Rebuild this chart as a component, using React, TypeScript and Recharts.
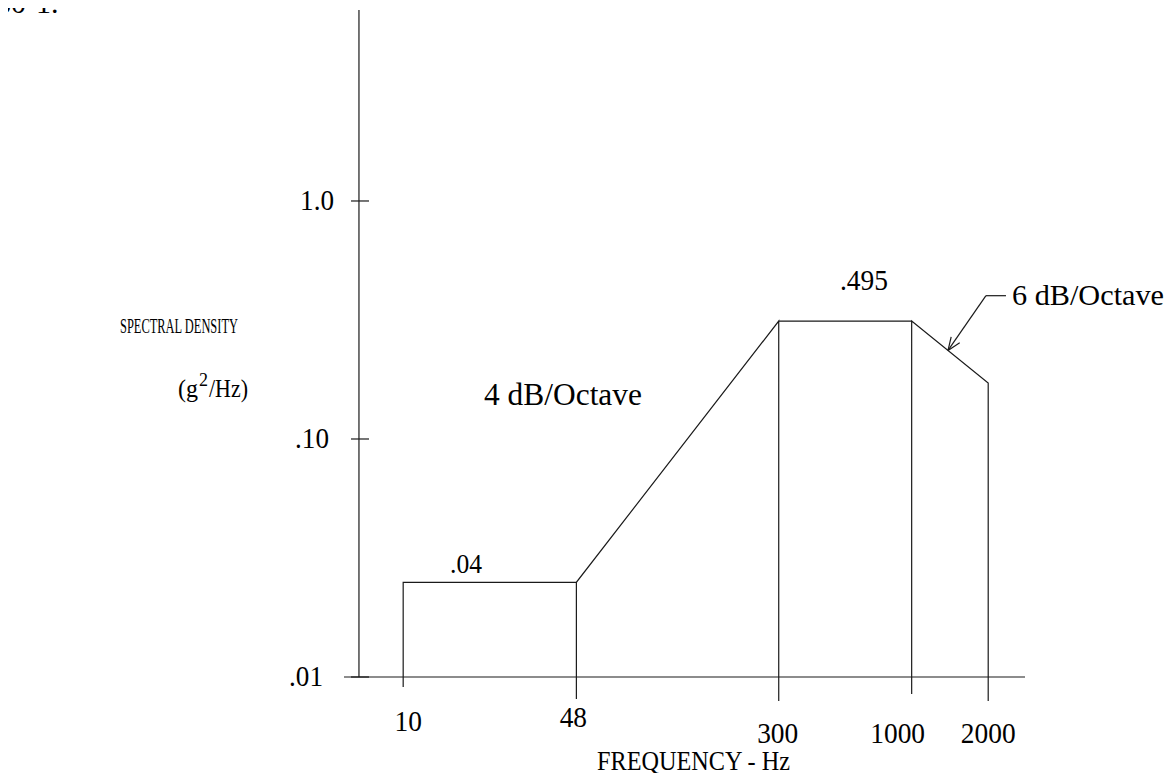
import React from "react";
import { LineChart, Line, XAxis, YAxis, ReferenceLine } from "recharts";

// corner frequencies of the test profile (Hz)
const FREQS = [10, 48, 300, 1000, 2000];
// spectral density at each corner (g^2/Hz)
const LEVELS = [0.025, 0.025, 0.313, 0.313, 0.172];
const FLOOR = 0.01;

const X_TICKS = [10, 48, 300, 1000, 2000];
const X_TICK_LABELS = ["10", "48", "300", "1000", "2000"];
const Y_TICKS = [0.01, 0.1, 1];
const Y_TICK_LABELS = [".01", ".10", "1.0"];

const W = 1156;
const H = 765;
const AXIS_Y = 669; // local px of the frequency axis line
const Y_AXIS_FREQ = 6.7; // where the vertical axis crosses

// outline with drop lines to the floor at every corner
const profile: { f: number; g: number }[] = [];
FREQS.forEach((f, i) => {
  if (i === 0) {
    profile.push({ f, g: FLOOR });
    profile.push({ f, g: LEVELS[0] });
    return;
  }
  profile.push({ f, g: LEVELS[i] });
  profile.push({ f, g: FLOOR });
  if (i < FREQS.length - 1) profile.push({ f, g: LEVELS[i] });
});

// arrow tip sits on the 6 dB/Octave roll-off
const tipF = 1390;
const frac = Math.log(tipF / FREQS[3]) / Math.log(FREQS[4] / FREQS[3]);
const tipG = Math.pow(10, Math.log10(LEVELS[3]) + frac * (Math.log10(LEVELS[4]) - Math.log10(LEVELS[3])));
const elbow = { f: 1960, g: 0.4 };

const xTickStyle: Record<number, { dx: number; base: number; len: number }> = {
  10: { dx: 5, base: 723, len: 10 },
  48: { dx: -3, base: 719, len: 22 },
  300: { dx: -1, base: 735, len: 24 },
  1000: { dx: -14, base: 735, len: 17 },
  2000: { dx: 0, base: 735, len: 24 },
};

const yTickEnd: Record<number, number> = { 1: 326, 0.1: 321, 0.01: 315 };

const serif = "'Liberation Serif', 'Times New Roman', serif";
const ink = "#1a1a1a";

// narrow the glyphs a little, the original face is tighter than Times
const numWidth = (s: string) => s.split("").reduce((w, c) => w + (c === "." ? 6.5 : 13.7), 0);

const XTick = (props: any) => {
  const { x, payload } = props;
  const v = payload.value;
  const s = xTickStyle[v];
  const label = X_TICK_LABELS[X_TICKS.indexOf(v)];
  return (
    <g>
      <line x1={x} x2={x} y1={AXIS_Y} y2={AXIS_Y + s.len} stroke={ink} strokeWidth={1.2} />
      <text
        x={x + s.dx}
        y={s.base}
        textAnchor="middle"
        fontFamily={serif}
        fontSize={30}
        fill="#000"
        textLength={numWidth(label)}
        lengthAdjust="spacingAndGlyphs"
      >
        {label}
      </text>
    </g>
  );
};

const YTick = (props: any) => {
  const { y, payload } = props;
  const v = payload.value;
  const label = Y_TICK_LABELS[Y_TICKS.indexOf(v)];
  return (
    <g>
      <line x1={343} x2={361} y1={y} y2={y} stroke={ink} strokeWidth={1.2} />
      <text
        x={yTickEnd[v]}
        y={y + 9}
        textAnchor="end"
        fontFamily={serif}
        fontSize={30}
        fill="#000"
        textLength={numWidth(label)}
        lengthAdjust="spacingAndGlyphs"
      >
        {label}
      </text>
    </g>
  );
};

const Leader = (p: any) => {
  const { x1, y1, x2, y2 } = p;
  if (x1 == null) return null;
  const ang = Math.atan2(y2 - y1, x2 - x1);
  const a = 0.38;
  const L = 14;
  return (
    <g stroke={ink} strokeWidth={1.2} fill="none">
      <line x1={x1} y1={y1} x2={x2} y2={y2} />
      <line x1={x2} y1={y2} x2={x2 + 20} y2={y2} />
      <line x1={x1} y1={y1} x2={x1 + L * Math.cos(ang + a)} y2={y1 + L * Math.sin(ang + a)} />
      <line x1={x1} y1={y1} x2={x1 + L * Math.cos(ang - a)} y2={y1 + L * Math.sin(ang - a)} />
    </g>
  );
};

export default function App() {
  return (
    <div style={{ position: "relative", width: W, height: H }}>
      <LineChart width={W} height={H} data={profile} margin={{ top: 2, right: 139, left: 276, bottom: 66 }}>
        <XAxis
          dataKey="f"
          type="number"
          scale="log"
          domain={[5.851, 2791]}
          allowDataOverflow
          ticks={X_TICKS}
          interval={0}
          tick={<XTick />}
          tickLine={false}
          axisLine={{ stroke: ink, strokeWidth: 1.2 }}
          height={30}
        />
        <YAxis
          type="number"
          scale="log"
          domain={[0.01, 6.345]}
          allowDataOverflow
          ticks={Y_TICKS}
          interval={0}
          tick={<YTick />}
          tickLine={false}
          axisLine={false}
          width={60}
        />
        <ReferenceLine x={Y_AXIS_FREQ} stroke={ink} strokeWidth={1.2} />
        <ReferenceLine
          segment={[
            { x: tipF, y: tipG },
            { x: elbow.f, y: elbow.g },
          ]}
          shape={Leader}
        />
        <Line
          type="linear"
          dataKey="g"
          stroke={ink}
          strokeWidth={1.2}
          dot={false}
          activeDot={false}
          isAnimationActive={false}
        />
      </LineChart>
      <svg
        width={W}
        height={H}
        style={{ position: "absolute", left: 0, top: 0, overflow: "visible", pointerEvents: "none" }}
        fontFamily={serif}
        fill="#000"
      >
        <text x={-12} y={5} fontSize={30}>80-1.</text>
        <text x={856} y={282} fontSize={30} textAnchor="middle" textLength={48} lengthAdjust="spacingAndGlyphs">.495</text>
        <text x={458} y={565} fontSize={28} textAnchor="middle" textLength={32} lengthAdjust="spacingAndGlyphs">.04</text>
        <text x={476} y={397} fontSize={31} textLength={158} lengthAdjust="spacingAndGlyphs">4 dB/Octave</text>
        <text x={1004} y={297} fontSize={30} textLength={152} lengthAdjust="spacingAndGlyphs">6 dB/Octave</text>
        <text x={112} y={325} fontSize={21} textLength={118} lengthAdjust="spacingAndGlyphs">SPECTRAL DENSITY</text>
        <text x={170} y={389} fontSize={25} textLength={20} lengthAdjust="spacingAndGlyphs">(g</text>
        <text x={191} y={378} fontSize={18}>2</text>
        <text x={201} y={389} fontSize={25} textLength={39} lengthAdjust="spacingAndGlyphs">/Hz)</text>
        <text x={589} y={762} fontSize={27} textLength={193} lengthAdjust="spacingAndGlyphs">FREQUENCY - Hz</text>
      </svg>
    </div>
  );
}
